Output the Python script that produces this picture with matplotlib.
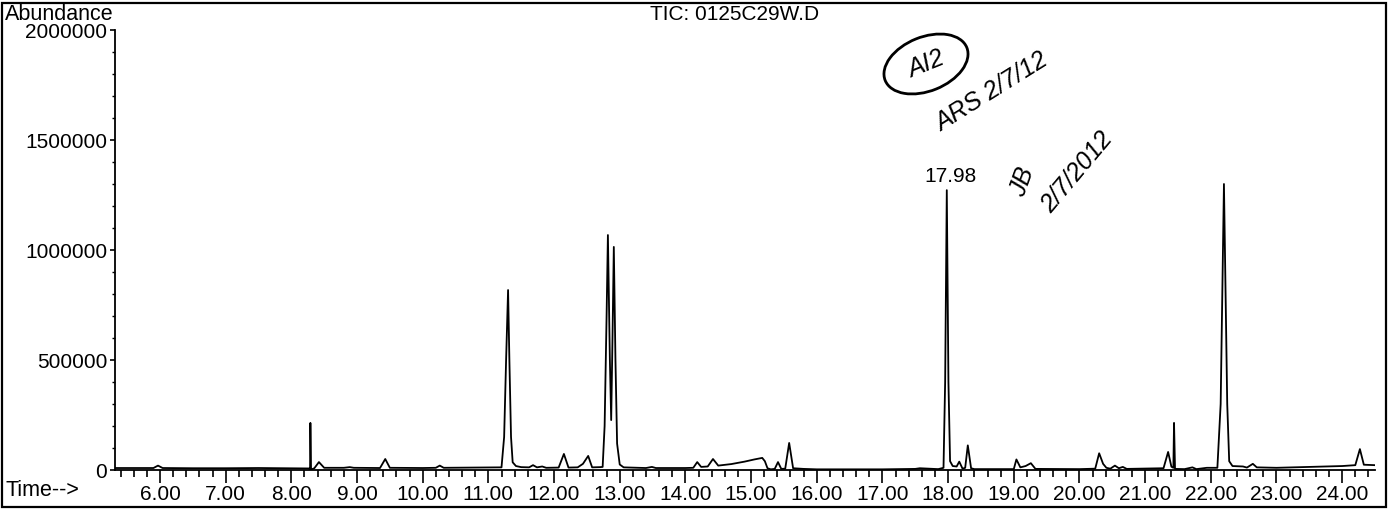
import matplotlib
matplotlib.use("Agg")
import matplotlib.pyplot as plt
from matplotlib.patches import Ellipse, Rectangle
from matplotlib.ticker import MultipleLocator, FormatStrFormatter
from matplotlib.transforms import IdentityTransform

plt.rcParams['font.family'] = ['Liberation Sans', 'DejaVu Sans']

# TIC trace (retention time in min, abundance)
time_min = [
    5.32, 5.90, 5.97, 6.04, 6.50, 7.00, 7.50, 8.00, 8.27, 8.285, 8.29, 8.30,
    8.35, 8.42, 8.50, 8.80, 8.89, 8.95, 9.35, 9.43, 9.50, 10.00, 10.20, 10.26,
    10.32, 10.80, 11.20, 11.24, 11.27, 11.30, 11.32, 11.345, 11.37, 11.42,
    11.50, 11.62, 11.68, 11.74, 11.82, 11.88, 12.07, 12.15, 12.22, 12.36,
    12.44, 12.52, 12.58, 12.70, 12.74, 12.77, 12.80, 12.82, 12.85, 12.87,
    12.89, 12.91, 12.935, 12.96, 13.00, 13.06, 13.40, 13.49, 13.55, 14.00,
    14.12, 14.18, 14.24, 14.34, 14.42, 14.50, 14.70, 14.90, 15.05, 15.17,
    15.21, 15.25, 15.30, 15.36, 15.41, 15.46, 15.52, 15.58, 15.64, 15.80,
    16.00, 17.00, 17.50, 17.57, 17.85, 17.93, 17.955, 17.98, 18.005, 18.03,
    18.07, 18.13, 18.17, 18.22, 18.26, 18.30, 18.35, 18.40, 19.00, 19.04,
    19.10, 19.18, 19.26, 19.33, 20.00, 20.24, 20.30, 20.36, 20.41, 20.47,
    20.54, 20.60, 20.66, 20.72, 21.10, 21.28, 21.35, 21.40, 21.43, 21.44,
    21.455, 21.60, 21.72, 21.78, 21.94, 22.10, 22.15, 22.17, 22.20, 22.23,
    22.25, 22.28, 22.33, 22.49, 22.55, 22.64, 22.70, 23.00, 23.50, 24.00,
    24.20, 24.27, 24.33, 24.50,
]
abundance = [
    9000, 9000, 20000, 9000, 8000, 8000, 9000, 8000, 7000, 0, 214000, 2000,
    8000, 36000, 10000, 10000, 13000, 10000, 9000, 50000, 10000, 9000, 10000, 20000,
    10000, 11000, 12000, 150000, 500000, 818000, 500000, 150000, 35000, 18000,
    13000, 12000, 22000, 12000, 16000, 10000, 11000, 73000, 11000, 12000,
    28000, 64000, 12000, 13000, 14000, 200000, 700000, 1068000, 500000, 227000,
    600000, 1014000, 500000, 120000, 25000, 12000, 9000, 14000, 9000, 9000,
    10000, 36000, 14000, 16000, 50000, 20000, 27000, 38000, 48000, 55000,
    40000, 8000, 3000, 5000, 36000, 5000, 6000, 123000, 8000, 5000,
    3000, 3000, 5000, 8000, 4000, 10000, 400000, 1272000, 400000, 40000,
    18000, 16000, 38000, 6000, 10000, 112000, 8000, 4000, 4000, 48000,
    12000, 18000, 31000, 5000, 4000, 6000, 76000, 28000, 10000, 6000,
    20000, 8000, 14000, 5000, 7000, 8000, 82000, 15000, 10000, 214000,
    5000, 4000, 12000, 4000, 10000, 10000, 300000, 700000, 1300000, 700000,
    300000, 40000, 18000, 16000, 11000, 28000, 12000, 10000, 14000, 18000,
    22000, 95000, 24000, 22000,
]

labelled_peak = 17.98
major_x = list(range(6, 25))
major_y = [0, 500000, 1000000, 1500000, 2000000]

W, H = 1393, 509
fig = plt.figure(figsize=(W / 100, H / 100), dpi=100)
ax = fig.add_axes([115 / W, (H - 470) / H, (1375 - 115) / W, 440 / H])

ax.plot(time_min, abundance, color='black', linewidth=1.3)

ax.set_xlim(5.315, 24.5)
ax.set_ylim(0, 2000000)

for side in ('top', 'right'):
    ax.spines[side].set_visible(False)
for side in ('left', 'bottom'):
    ax.spines[side].set_linewidth(1.3)

ax.set_xticks(major_x)
ax.xaxis.set_major_formatter(FormatStrFormatter('%.2f'))
ax.xaxis.set_minor_locator(MultipleLocator(0.2))
ax.set_yticks(major_y)
ax.set_yticklabels([str(v) for v in major_y])
ax.yaxis.set_minor_locator(MultipleLocator(100000))

ax.tick_params(axis='x', which='major', length=9, width=1.2, pad=1.5, labelsize=15)
ax.tick_params(axis='x', which='minor', length=5, width=1.2)
ax.tick_params(axis='y', which='major', length=3.5, width=1.2, pad=2, labelsize=15)
ax.tick_params(axis='y', which='minor', length=2, width=1.0)

# retention time label on the biggest peak
pk = abundance[time_min.index(labelled_peak)]
ax.annotate(f'{labelled_peak:.2f}', (labelled_peak, pk), xytext=(3, 3),
            textcoords='offset points', ha='center', va='bottom', fontsize=15)

# header / axis texts
fig.text(5 / W, (H - 14) / H, 'Abundance', ha='left', va='center', fontsize=15.5)
fig.text(735 / W, (H - 14) / H, 'TIC: 0125C29W.D', ha='center', va='center', fontsize=15)
fig.text(6 / W, (H - 490) / H, 'Time-->', ha='left', va='center', fontsize=15.5)

# handwritten notes on the print
hand = dict(fontstyle='italic', fontsize=18, color='black', transform=IdentityTransform(),
            ha='center', va='center')
fig.patches.append(Ellipse((926, H - 64), 88, 54, angle=22, fill=False,
                           edgecolor='black', linewidth=2.0, transform=IdentityTransform()))
fig.text(926, H - 64, 'AI2', rotation=22, **hand)
fig.text(992, H - 92, 'ARS 2/7/12', rotation=32, **hand)
fig.text(1022, H - 182, 'JB', rotation=70, **hand)
fig.text(1077, H - 172, '2/7/2012', rotation=50, **hand)

# page frame of the scanned print
fig.patches.append(Rectangle((2 / W, 2 / H), 1384 / W, 504 / H, transform=fig.transFigure,
                             fill=False, edgecolor='black', linewidth=1.6))

fig.savefig('out.png', dpi=100, facecolor='white')
